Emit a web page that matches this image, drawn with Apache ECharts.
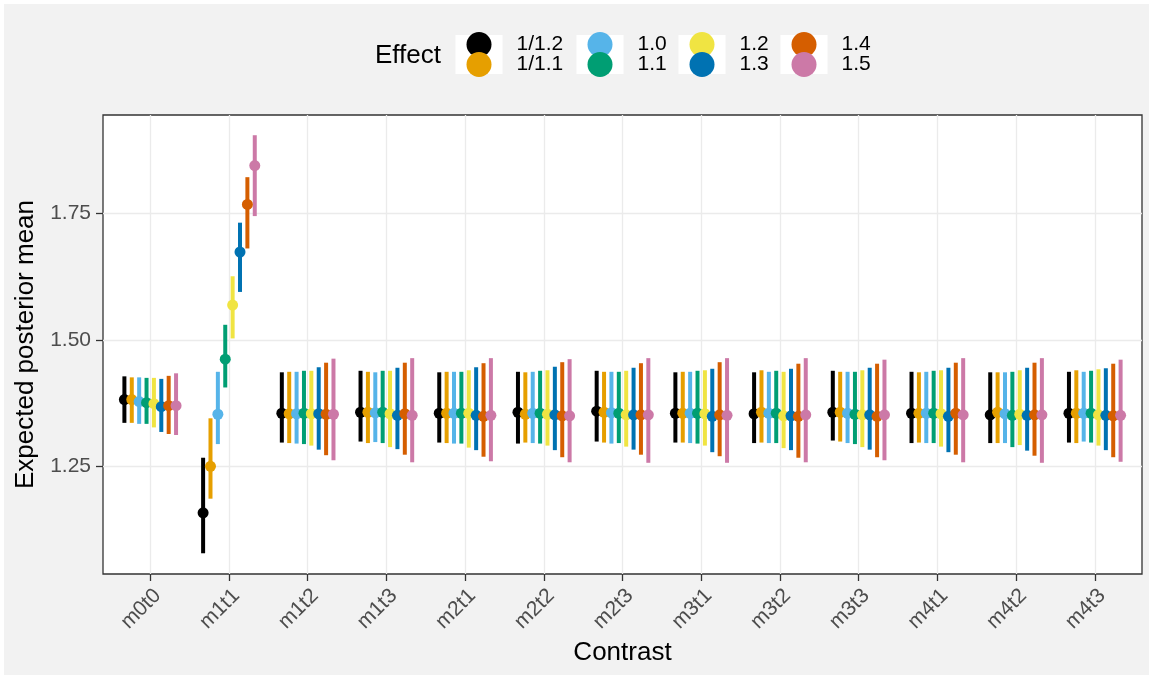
<!DOCTYPE html>
<html>
<head>
<meta charset="utf-8">
<script src="https://cdn.jsdelivr.net/npm/echarts@6/dist/echarts.min.js"></script>
<style>
    html, body { margin: 0; padding: 0; background: #ffffff; }
    #chart { width: 1149px; height: 675px; }
</style>
</head>
<body>
<div id="chart"></div>
<script>
    // contrasts on the x axis
    const categories = ['m0t0', 'm1t1', 'm1t2', 'm1t3', 'm2t1', 'm2t2', 'm2t3',
                        'm3t1', 'm3t2', 'm3t3', 'm4t1', 'm4t2', 'm4t3'];
    const effects = ['1/1.2', '1/1.1', '1.0', '1.1', '1.2', '1.3', '1.4', '1.5'];
    const colors = ['#000000', '#E69F00', '#56B4E9', '#009E73', '#F0E442', '#0072B2', '#D55E00', '#CC79A7'];
    const yTicks = [1.25, 1.5, 1.75];

    // one row per effect, one column per contrast
    const meanRows = [
        [1.382, 1.158, 1.355, 1.357, 1.355, 1.357, 1.359, 1.355, 1.354, 1.357, 1.355, 1.352, 1.355],
        [1.382, 1.250, 1.354, 1.357, 1.355, 1.353, 1.357, 1.355, 1.357, 1.357, 1.355, 1.357, 1.355],
        [1.378, 1.353, 1.354, 1.356, 1.355, 1.355, 1.356, 1.355, 1.355, 1.355, 1.355, 1.354, 1.355],
        [1.376, 1.462, 1.355, 1.357, 1.355, 1.355, 1.355, 1.355, 1.355, 1.353, 1.355, 1.351, 1.355],
        [1.374, 1.569, 1.354, 1.354, 1.355, 1.353, 1.352, 1.354, 1.350, 1.352, 1.354, 1.353, 1.352],
        [1.368, 1.674, 1.354, 1.351, 1.351, 1.352, 1.352, 1.349, 1.350, 1.352, 1.349, 1.351, 1.351],
        [1.370, 1.768, 1.353, 1.354, 1.349, 1.350, 1.352, 1.352, 1.349, 1.349, 1.355, 1.352, 1.350],
        [1.370, 1.845, 1.353, 1.351, 1.351, 1.350, 1.352, 1.351, 1.352, 1.352, 1.352, 1.352, 1.351]
    ];
    const lowerRows = [
        [1.336, 1.078, 1.297, 1.299, 1.297, 1.295, 1.299, 1.297, 1.296, 1.301, 1.296, 1.296, 1.297],
        [1.336, 1.186, 1.296, 1.296, 1.296, 1.297, 1.297, 1.297, 1.297, 1.299, 1.297, 1.296, 1.296],
        [1.334, 1.294, 1.295, 1.298, 1.295, 1.296, 1.295, 1.296, 1.296, 1.296, 1.296, 1.296, 1.299],
        [1.334, 1.406, 1.294, 1.296, 1.295, 1.295, 1.296, 1.295, 1.296, 1.294, 1.296, 1.288, 1.297],
        [1.327, 1.503, 1.291, 1.288, 1.287, 1.291, 1.289, 1.291, 1.286, 1.288, 1.289, 1.292, 1.291],
        [1.318, 1.595, 1.283, 1.284, 1.282, 1.282, 1.283, 1.278, 1.282, 1.283, 1.278, 1.281, 1.282],
        [1.314, 1.681, 1.272, 1.273, 1.269, 1.268, 1.273, 1.270, 1.267, 1.268, 1.273, 1.271, 1.268],
        [1.312, 1.745, 1.262, 1.258, 1.260, 1.258, 1.257, 1.257, 1.258, 1.262, 1.258, 1.257, 1.259]
    ];
    const upperRows = [
        [1.428, 1.267, 1.436, 1.439, 1.436, 1.437, 1.439, 1.436, 1.436, 1.439, 1.437, 1.436, 1.437],
        [1.426, 1.345, 1.437, 1.437, 1.437, 1.436, 1.437, 1.437, 1.440, 1.437, 1.436, 1.436, 1.440],
        [1.426, 1.437, 1.437, 1.436, 1.437, 1.437, 1.437, 1.437, 1.437, 1.437, 1.437, 1.436, 1.437],
        [1.425, 1.530, 1.439, 1.439, 1.437, 1.439, 1.437, 1.439, 1.439, 1.437, 1.439, 1.437, 1.439],
        [1.425, 1.626, 1.439, 1.439, 1.440, 1.440, 1.439, 1.440, 1.437, 1.440, 1.440, 1.440, 1.442],
        [1.423, 1.732, 1.446, 1.445, 1.446, 1.447, 1.445, 1.443, 1.443, 1.445, 1.445, 1.445, 1.444],
        [1.429, 1.822, 1.455, 1.455, 1.454, 1.456, 1.454, 1.456, 1.453, 1.453, 1.455, 1.455, 1.453],
        [1.434, 1.905, 1.463, 1.464, 1.464, 1.462, 1.464, 1.464, 1.464, 1.461, 1.464, 1.464, 1.461]
    ];

    const FONT = 'Liberation Sans, Arial, Helvetica, sans-serif';
    const catIdx = categories.map((c, i) => i);
    const dodge = 0.75;   // position_dodge width

    let myChart = echarts.init(document.getElementById('chart'));

    let series = [];
    // error bars first, points on top
    effects.forEach((eff, k) => {
        const off = (k - 3.5) * dodge / effects.length;
        series.push({
            name: eff,
            type: 'custom',
            z: 2,
            data: catIdx.map(i => [i, lowerRows[k][i], upperRows[k][i]]),
            renderItem: function (params, api) {
                const x = api.value(0) + off;
                const p1 = api.coord([x, api.value(1)]);
                const p2 = api.coord([x, api.value(2)]);
                return {
                    type: 'line',
                    shape: {x1: p1[0], y1: p1[1], x2: p2[0], y2: p2[1]},
                    style: {stroke: colors[k], lineWidth: 4}
                };
            }
        });
    });
    effects.forEach((eff, k) => {
        const off = (k - 3.5) * dodge / effects.length;
        series.push({
            name: eff,
            type: 'scatter',
            z: 3,
            symbol: 'circle',
            symbolSize: 11,
            itemStyle: {color: colors[k], opacity: 1},
            data: catIdx.map(i => [i + off, meanRows[k][i]])
        });
    });

    // legend: four columns of two keys
    const legendCols = [[0, 1], [2, 3], [4, 5], [6, 7]];
    const legendCx = [479, 600, 702, 804];
    let legends = legendCols.map((col, c) => ({
        orient: 'vertical',
        left: legendCx[c] - 12.5,
        top: 32,
        padding: 0,
        itemWidth: 25,
        itemHeight: 25,
        itemGap: -5,
        selectedMode: false,
        z: 5,
        textStyle: {fontFamily: FONT, fontSize: 21, color: '#000000', lineHeight: 21, padding: [0, 0, 0, 20]},
        data: col.map(k => ({name: effects[k], icon: 'circle', itemStyle: {color: colors[k]}}))
    }));

    let graphics = [
        {type: 'rect', left: 4, top: 4, z: -10, silent: true,
            shape: {width: 1145, height: 671}, style: {fill: '#f2f2f2'}},
        {type: 'text', left: 375, top: 43, z: 1,
            style: {text: 'Effect', fontFamily: FONT, fontSize: 26, fill: '#000000'}}
    ];
    legendCx.forEach(cx => {
        graphics.push({type: 'rect', left: cx - 23.5, top: 35, z: 1, silent: true,
            shape: {width: 47, height: 39}, style: {fill: '#ffffff'}});
    });

    let option = {
        animation: false,
        textStyle: {fontFamily: FONT},
        graphic: graphics,
        legend: legends,
        grid: {
            left: 103, right: 7, top: 115, bottom: 101,
            show: true, backgroundColor: '#ffffff',
            borderColor: '#333333', borderWidth: 1.3,
            outerBoundsMode: 'none'
        },
        xAxis: {
            type: 'value',
            min: -0.6,
            max: 12.6,
            axisLine: {show: false, onZero: false},
            axisTick: {show: true, customValues: catIdx, length: 7, lineStyle: {color: '#333333', width: 1.3}},
            axisLabel: {
                customValues: catIdx, rotate: 45, margin: 11, verticalAlign: 'top',
                fontFamily: FONT, fontSize: 21, color: '#4d4d4d',
                formatter: v => categories[Math.round(v)]
            },
            splitLine: {show: true, lineStyle: {color: '#ebebeb', width: 1.3}},
            name: 'Contrast',
            nameLocation: 'middle',
            nameGap: 66,
            nameTextStyle: {fontFamily: FONT, fontSize: 26, color: '#000000'}
        },
        yAxis: {
            type: 'value',
            min: 1.037,
            max: 1.945,
            axisLine: {show: false, onZero: false},
            axisTick: {show: true, customValues: yTicks, length: 7, lineStyle: {color: '#333333', width: 1.3}},
            axisLabel: {
                customValues: yTicks, margin: 12,
                fontFamily: FONT, fontSize: 21, color: '#4d4d4d',
                formatter: v => v.toFixed(2)
            },
            splitLine: {show: true, lineStyle: {color: '#ebebeb', width: 1.3}},
            name: 'Expected posterior mean',
            nameLocation: 'middle',
            nameRotate: 90,
            nameGap: 62,
            nameTextStyle: {fontFamily: FONT, fontSize: 26, color: '#000000'}
        },
        series: series
    };
    myChart.setOption(option);
</script>
</body>
</html>
